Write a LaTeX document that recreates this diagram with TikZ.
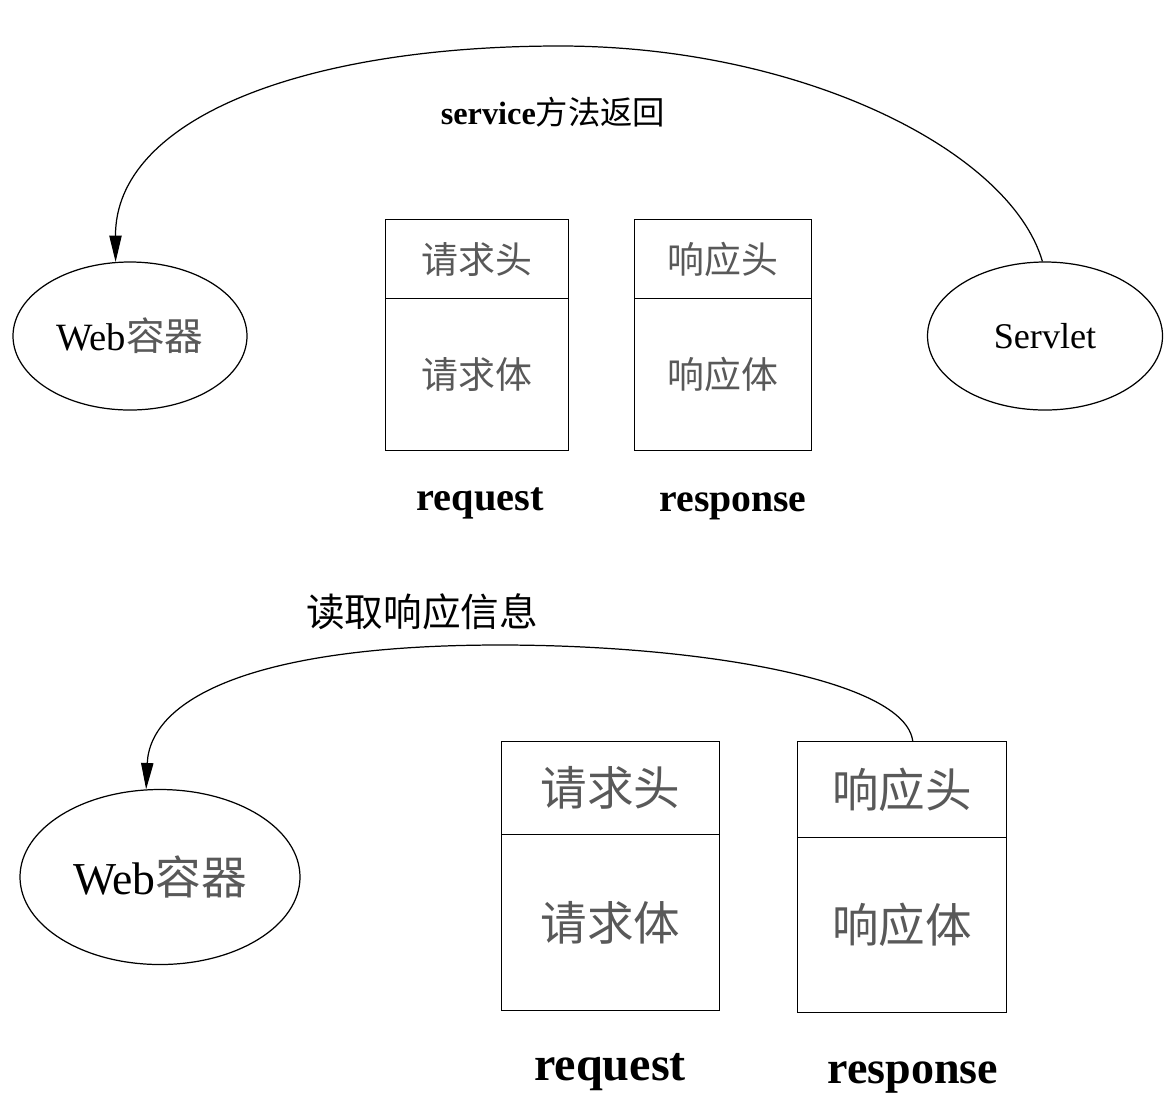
\documentclass[tikz,border=0pt]{standalone}
\usepackage{fontspec}
\setmainfont{Liberation Serif}
\newfontfamily\cjk{Noto Sans CJK SC}
\usetikzlibrary{shapes.geometric,arrows.meta,calc}
\newcommand\pxu{0.02cm}
\newcommand\fs[1]{\fontsize{#1}{#1}\selectfont}
\begin{document}
\begin{tikzpicture}[x=0.02cm,y=-0.02cm,
  ell/.style={draw,ellipse,line width=0.7pt,inner sep=0pt,minimum width=#1},
  cell/.style={draw,rectangle,line width=0.8pt,inner sep=0pt,anchor=north west,text=black!65},
  arr/.style={line width=0.7pt,-{Triangle[length=15pt,width=7pt]}},
  lbl/.style={inner sep=0pt},
  ]
\useasboundingbox[fill=white] (0,0) rectangle (1165,1100);

% ---------- top part ----------
\node[ell=234*\pxu,minimum height=148*\pxu,font=\fs{22}] (web1) at (130,336) {Web{\cjk\color{black!65}容器}};
\node[ell=235*\pxu,minimum height=148*\pxu,font=\fs{20.6}] (servlet) at (1045,336) {Servlet};

\node[cell,minimum width=183*\pxu,minimum height=79*\pxu,font=\cjk\fs{21}] (req1h) at (385,219) {请求头};
\node[cell,minimum width=183*\pxu,minimum height=152*\pxu,font=\cjk\fs{21}] (req1b) at (385,298) {请求体};
\node[cell,minimum width=177*\pxu,minimum height=79*\pxu,font=\cjk\fs{21}] (resp1h) at (634,219) {响应头};
\node[cell,minimum width=177*\pxu,minimum height=152*\pxu,font=\cjk\fs{21}] (resp1b) at (634,298) {响应体};

\node[lbl,font=\bfseries\fs{23}] (reqlbl1) at (480,503) {request};
\node[lbl,font=\bfseries\fs{22.6}] (resplbl1) at (733,506) {response};

\node[lbl,font=\fs{18.4}] (svclbl) at (553,112) {\textbf{service}{\cjk 方法返回}};

\draw[arr] (servlet.92) .. controls (1010,150) and (800,46) .. (560,46)
  .. controls (300,46) and (115,120) .. (web1.101.5);

% ---------- bottom part ----------
\node[ell=280*\pxu,minimum height=175*\pxu,font=\fs{26}] (web2) at (160,877) {Web{\cjk\color{black!65}容器}};

\node[cell,minimum width=218*\pxu,minimum height=93*\pxu,font=\cjk\fs{26.5}] (req2h) at (501,741) {请求头};
\node[cell,minimum width=218*\pxu,minimum height=176*\pxu,font=\cjk\fs{26.5}] (req2b) at (501,834) {请求体};
\node[cell,minimum width=209*\pxu,minimum height=96*\pxu,font=\cjk\fs{26.5}] (resp2h) at (797,741) {响应头};
\node[cell,minimum width=209*\pxu,minimum height=175*\pxu,font=\cjk\fs{26.5}] (resp2b) at (797,837) {响应体};

\node[lbl,font=\bfseries\fs{27.4}] (reqlbl2) at (610,1072) {request};
\node[lbl,font=\bfseries\fs{26.2}] (resplbl2) at (913,1077) {response};

\node[lbl,font=\cjk\fs{22}] (readlbl) at (422,612) {读取响应信息};

\coordinate (start2) at ($(resp2h.north)+(10.5,0)$);
\draw[arr] (start2) .. controls (905,680) and (700,645) .. (500,645)
  .. controls (250,645) and (150,700) .. (web2.99.8);
\end{tikzpicture}
\end{document}
